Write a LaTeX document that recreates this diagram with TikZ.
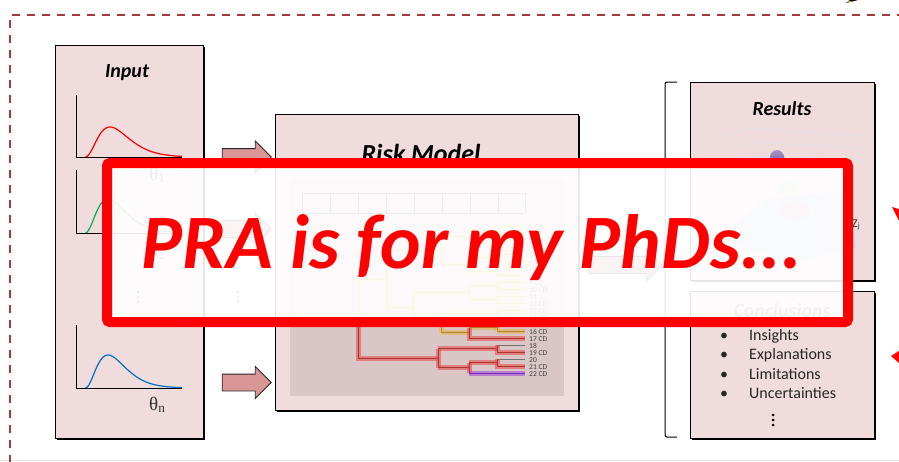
\documentclass[tikz,border=0pt]{standalone}
\usepackage{fontspec}
\setmainfont{Carlito}
\newfontfamily\thetafont{Liberation Serif}
\usetikzlibrary{shapes.arrows,shadows}

\definecolor{panelfill}{HTML}{F0DCDC}
\definecolor{arrowfill}{HTML}{D99694}
\definecolor{modelarea}{HTML}{DAC6C6}
\definecolor{framered}{HTML}{A33B3B}
\definecolor{hlred}{HTML}{E84545}
\definecolor{hlorange}{HTML}{E8B040}
\definecolor{hlpurple}{HTML}{A040E0}
\definecolor{hlyellow}{HTML}{F2DC50}
\definecolor{curvered}{HTML}{FF0000}
\definecolor{curvegreen}{HTML}{00B050}
\definecolor{curveblue}{HTML}{0070C0}
\definecolor{gridline}{HTML}{DDE1EA}
\definecolor{surface}{HTML}{A8C6EA}
\definecolor{peak}{HTML}{6E4F9E}
\definecolor{slogan}{HTML}{FF0000}

\begin{document}
\begin{tikzpicture}[x=1pt,y=-1pt,
  panel/.style={draw=black,line width=0.8pt,fill=panelfill,inner sep=0pt,
    drop shadow={shadow xshift=1.8pt,shadow yshift=-1.8pt,opacity=1,fill=black}},
  blockarrow/.style={single arrow,draw=black!85,line width=0.8pt,fill=arrowfill,
    inner xsep=0pt,inner ysep=8pt,minimum height=49pt,
    single arrow head extend=7.5pt,single arrow head indent=0pt},
  paneltitle/.style={font=\fontsize{20}{24}\selectfont\bfseries\itshape,anchor=base,inner sep=0pt},
  axis/.style={line width=0.8pt,black},
  density/.style={line width=1.2pt},
  thetalabel/.style={font=\fontsize{19}{22}\thetafont,anchor=base west,inner sep=0pt,text=black!80},
  leaflabel/.style={font=\fontsize{7.5}{8}\selectfont,text=black!75,anchor=base west,inner sep=0pt},
  branch/.style={preaction={draw=#1,line width=5pt,opacity=0.55},draw=#1!75!black,line width=0.9pt},
  plainleaf/.style={draw=black!55,line width=0.8pt},
  bulletitem/.style={font=\fontsize{16}{19}\selectfont,anchor=base west,inner sep=0pt,text=black!85},
]
\useasboundingbox (0,0) rectangle (899,461);

% slide edge and dashed frame
\draw[black!10,line width=0.8pt] (0,460.5) -- (899,460.5);
\draw[framered,line width=2.2pt,dash pattern=on 8pt off 7pt] (905,15) -- (10,15) -- (10,470);
% arrow tip entering from the top
\fill[black] (846,3) -- (862,-1) -- (851,-1) -- cycle;
\fill[yellow!80!orange] (847,3) -- (852,1) -- (849,1) -- cycle;

% ---------- panels ----------
\node[panel,minimum width=148pt,minimum height=393pt] (input) at (129,241.5) {};
\node[panel,minimum width=303pt,minimum height=296pt] (model) at (426.5,262) {};
\node[panel,minimum width=184pt,minimum height=198pt] (results) at (782,181) {};
\node[panel,minimum width=184pt,minimum height=147pt] (concl) at (782,364.5) {};

\node[paneltitle] (inputtitle) at (127,77) {Input};
\node[paneltitle,font=\fontsize{26}{30}\selectfont\bfseries\itshape] (modeltitle) at (421,162) {Risk Model};
\node[paneltitle] (resultstitle) at (782,115) {Results};
\node[paneltitle,text=black!55] (concltitle) at (782,317) {Conclusions};

% ---------- input distributions ----------
\draw[axis] (76,95) -- (76,157) -- (182,157);
\draw[density,curvered] plot[smooth,domain=0.5:97,samples=60]
  ({85+\x},{157-30*pow(\x/25,2.5)*exp(2.5*(1-\x/25))});
\node[thetalabel] (theta1) at (149,180) {θ\textsubscript{1}};

\draw[axis] (76,170) -- (76,233) -- (182,233);
\draw[density,curvegreen] plot[smooth,domain=0.5:97,samples=60]
  ({85+\x},{233-34*pow(\x/23,2.5)*exp(2.5*(1-\x/23))});
\node[thetalabel] (theta2) at (149,257) {θ\textsubscript{2}};

\foreach \yy in {292,297,302} \fill (138,\yy) circle[radius=1.2pt];
\foreach \yy in {292,297,302} \fill (238,\yy) circle[radius=1.2pt];

\draw[axis] (76,325) -- (76,388) -- (182,388);
\draw[density,curveblue] plot[smooth,domain=0.5:97,samples=60]
  ({85+\x},{388-33*pow(\x/23,2.5)*exp(2.5*(1-\x/23))});
\node[thetalabel] (thetan) at (149,410) {θ\textsubscript{n}};

% ---------- block arrows ----------
\node[blockarrow] (arrowtop) at (242.5,157) {};
\node[blockarrow] (arrowmid) at (242.5,229) {};
\node[blockarrow] (arrowlow) at (242.5,382.5) {};
\node[blockarrow,minimum height=74pt] (arrowout) at (621,265) {};

% ---------- risk model ----------
\fill[modelarea] (290,180) rectangle (564,396);
\draw[black!70,line width=0.6pt] (302,193) rectangle (525,213);
\foreach \xx in {330,358,386,414,442,470,498} \draw[black!70,line width=0.6pt] (\xx,193) -- (\xx,213);

% upper part of the tree
\foreach \i in {1,...,14} \draw[branch=hlyellow] (497,{226+7*(\i-1)}) -- (525,{226+7*(\i-1)});
\foreach \i in {1,3,5,7,9,11} {
  \draw[branch=hlyellow] (497,{226+7*(\i-1)}) -- (497,{226+7*\i});
  \draw[branch=hlyellow] (469,{229.5+7*(\i-1)}) -- (497,{229.5+7*(\i-1)});
}
\draw[branch=hlyellow] (497,310) -- (497,317);
\draw[branch=hlyellow] (441,313.5) -- (497,313.5);
\draw[branch=hlyellow] (469,229.5) -- (469,243.5) (441,236.5) -- (469,236.5);
\draw[branch=hlyellow] (469,257.5) -- (469,271.5) (441,264.5) -- (469,264.5);
\draw[branch=hlyellow] (469,285.5) -- (469,299.5) (413,292.5) -- (469,292.5);
\draw[branch=hlyellow] (441,236.5) -- (441,264.5) (387,250.5) -- (441,250.5);
\draw[branch=hlyellow] (413,323.1) -- (441,323.1);
\draw[branch=hlyellow] (413,292.5) -- (413,323.1) (387,307.8) -- (413,307.8);
\draw[branch=hlyellow] (387,250.5) -- (387,307.8) (358,279.2) -- (387,279.2);
\draw[branch=hlyellow] (358,279.2) -- (358,318.6);

% orange cluster
\draw[branch=hlorange] (497,324) -- (525,324);
\draw[branch=hlorange] (497,324) -- (497,331);
\draw[branch=hlorange] (469,327.5) -- (497,327.5);
\draw[branch=hlorange] (497,331) -- (525,331);
\draw[branch=hlorange] (441,313.5) -- (441,332.75);
\draw[branch=hlorange] (441,332.75) -- (469,332.75);
\draw[branch=hlred] (469,327.5) -- (469,338) -- (525,338);

% red cluster
\draw[branch=hlred] (302,318.6) -- (358,318.6) -- (358,358) -- (438,358);
\draw[branch=hlred] (438,348.5) -- (438,367.75);
\draw[branch=hlred] (438,348.5) -- (497,348.5);
\draw[plainleaf] (497,345) -- (525,345);
\draw[branch=hlred] (497,345) -- (497,352) -- (525,352);
\draw[branch=hlred] (438,367.75) -- (469,367.75);
\draw[branch=hlred] (469,362.5) -- (497,362.5);
\draw[plainleaf] (497,359) -- (525,359);
\draw[branch=hlred] (497,359) -- (497,366) -- (525,366);
\draw[branch=hlred] (469,362.5) -- (469,373);
\draw[branch=hlpurple] (469,373) -- (525,373);

\foreach \i/\lab in {1/1 CD,2/2,3/3 CD,4/4 CD,5/5,6/6 CD,7/7 CD,8/8,9/9 CD,10/10 CD,11/11,
  12/12 CD,13/13 CD,14/14 CD,15/15 CD,16/16 CD,17/17 CD,18/18,19/19 CD,20/20,21/21 CD,22/22 CD}
  \node[leaflabel] (leaf\i) at (529,{226+7*(\i-1)+3}) {\lab};

% ---------- results plot ----------
\draw[gridline,line width=0.6pt] (724,136) -- (750,128) -- (860,136);
\draw[gridline,line width=0.6pt] (728,150) -- (752,142) -- (862,148);
\draw[gridline,line width=0.6pt] (732,164) -- (755,156) -- (864,160);
\fill[surface,opacity=0.7] (722,238) -- (765,200) -- (850,190) -- (855,248) -- (790,262) -- cycle;
\fill[red!50,opacity=0.45] (795,210) ellipse[x radius=15pt,y radius=9pt];
\fill[green!50,opacity=0.35] (788,188) ellipse[x radius=9pt,y radius=8pt];
\shade[top color=peak!60!white,bottom color=peak] (777,159) ellipse[x radius=7.5pt,y radius=9pt];
\node[font=\fontsize{12}{14}\selectfont,anchor=base west,inner sep=0pt,text=black!80] (zlabel) at (852,227) {Z\textsubscript{j}};

% ---------- conclusions ----------
\foreach \yy/\txt [count=\k] in {340/Insights,359.5/Explanations,379/Limitations,398.5/Uncertainties} {
  \node[bulletitem] (bul\k) at (720,\yy) {•};
  \node[bulletitem] (item\k) at (749,\yy) {\txt};
}
\foreach \yy in {415,420,425} \fill (773,\yy) circle[radius=1.5pt];

% bracket grouping the outputs
\draw[black,line width=1pt,rounded corners=2pt] (677,82) -- (665,82) -- (665,437) -- (677,437);

% arrow heads leaving to the right
\fill[red] (892,207) -- (899,209) -- (899,221) -- cycle;
\fill[red] (891,356) -- (899,351) -- (899,363) -- cycle;

% ---------- banner ----------
\draw[slogan,line width=10pt,fill=white,fill opacity=0.9,rounded corners=3pt] (107,163) rectangle (848,322);
\node[font=\fontsize{77}{80}\selectfont\bfseries\itshape,text=slogan,anchor=base,inner sep=0pt] (banner) at (472,268) {PRA is for my PhDs...};
\end{tikzpicture}
\end{document}
